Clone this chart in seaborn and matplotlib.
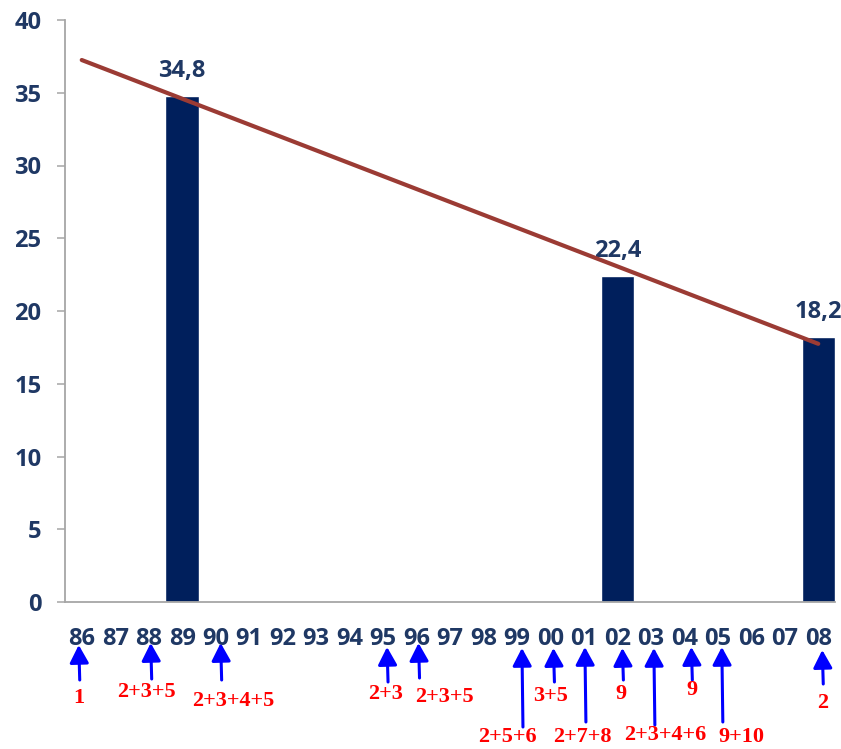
import numpy as np
import pandas as pd
import matplotlib
matplotlib.use("Agg")
import matplotlib.pyplot as plt
import matplotlib.transforms as mtransforms
import seaborn as sns

# ---------------- data ----------------
years = ["86", "87", "88", "89", "90", "91", "92", "93", "94", "95", "96", "97",
         "98", "99", "00", "01", "02", "03", "04", "05", "06", "07", "08"]
bar_years = ["89", "02", "08"]
bar_values = [34.8, 22.4, 18.2]
bar_labels = ["34,8", "22,4", "18,2"]
yticks = [0, 5, 10, 15, 20, 25, 30, 35, 40]

note_years = ["86", "88", "90", "95", "96", "99", "00", "01", "02", "03", "04", "05", "08"]
note_labels = ["1", "2+3+5", "2+3+4+5", "2+3", "2+3+5", "2+5+6", "3+5", "2+7+8",
               "9", "2+3+4+6", "9", "9+10", "2"]

# layout of the annotation arrows (pixels): tip dx, tip drop, tail drop, text dx, text drop
note_tip_dx = [-3, 2, 5, 4, 2, 5, 3, 1, 5, 3, 7, 4, 4]
note_tip_drop = [43, 41, 41, 45, 41, 46, 46, 45, 46, 46, 45, 45, 48]
note_tail_drop = [78, 77, 78, 80, 76, 125, 80, 120, 78, 123, 78, 120, 82]
note_text_dx = [-3, -2, 18, 3, 28, -10, 0, -2, 4, 14, 8, 24, 4]
note_text_drop = [96, 90, 99, 92, 95, 135, 94, 135, 92, 133, 88, 135, 101]

# ---------------- style ----------------
NAVY = "#1F3864"
BAR = "#001F5C"
TREND = "#9B3B34"
GRAY = "#A6A6A6"

sns.set_theme(style="white")
plt.rcParams["font.family"] = ["Open Sans", "DejaVu Sans"]

W, H = 841, 749
fig = plt.figure(figsize=(W / 100, H / 100), dpi=100)
ax_left, ax_right, ax_top, ax_bottom = 65, 835, 20, 602
ax = fig.add_axes([ax_left / W, (H - ax_bottom) / H,
                   (ax_right - ax_left) / W, (ax_bottom - ax_top) / H])

df = pd.DataFrame({"year": pd.Categorical(bar_years, categories=years, ordered=True),
                   "value": bar_values})
sns.barplot(data=df, x="year", y="value", order=years, color=BAR,
            saturation=1, width=1.0, ax=ax, zorder=2)

# linear trend across the categories
xpos = np.array([years.index(y) for y in bar_years], dtype=float)
slope, intercept = np.polyfit(xpos, bar_values, 1)
xs = np.array([0, len(years) - 1], dtype=float)
sns.lineplot(x=xs, y=slope * xs + intercept, color=TREND, lw=3.0, ax=ax,
             zorder=4, solid_capstyle="round")

# value labels
for xi, v, lab in zip(xpos, bar_values, bar_labels):
    ax.annotate(lab, xy=(xi, v), xytext=(0, 19), textcoords="offset pixels",
                ha="center", va="baseline", fontsize=17, fontweight="bold",
                color=NAVY, zorder=3)

ax.set_xlim(-0.5, len(years) - 0.5)
ax.set_ylim(0, 40)
ax.set_yticks(yticks)
ax.set_yticklabels([str(t) for t in yticks])
ax.set_xlabel("")
ax.set_ylabel("")

for s in ["top", "right"]:
    ax.spines[s].set_visible(False)
for s in ["left", "bottom"]:
    ax.spines[s].set_color(GRAY)
    ax.spines[s].set_linewidth(1.3)

ax.tick_params(axis="y", left=True, length=6, width=1.1, color=GRAY, pad=11,
               labelsize=17, labelcolor=NAVY)
ax.tick_params(axis="x", bottom=False, length=0, pad=18, labelsize=17,
               labelcolor=NAVY)
for lab in ax.get_xticklabels() + ax.get_yticklabels():
    lab.set_fontweight("bold")

# red notes with blue arrows under the year labels
base = ax.get_xaxis_transform()
for yr, lab, tdx, tdrop, tldrop, xdx, xdrop in zip(
        note_years, note_labels, note_tip_dx, note_tip_drop, note_tail_drop,
        note_text_dx, note_text_drop):
    i = years.index(yr)
    tip_tr = mtransforms.offset_copy(base, fig=fig, x=tdx, y=-tdrop, units="dots")
    tail_tr = mtransforms.offset_copy(base, fig=fig, x=tdx + 1, y=-tldrop, units="dots")
    tip_disp = tip_tr.transform((i, 0))
    tail_disp = tail_tr.transform((i, 0))
    ax.annotate("", xy=tip_disp, xycoords="figure pixels",
                xytext=tail_disp, textcoords="figure pixels",
                arrowprops=dict(arrowstyle="-|>,head_length=0.6,head_width=0.32",
                                mutation_scale=18, color="#0000FF", lw=2.2,
                                shrinkA=0, shrinkB=0),
                annotation_clip=False)
    txt_tr = mtransforms.offset_copy(base, fig=fig, x=xdx, y=-xdrop, units="dots")
    ax.text(i, 0, lab, transform=txt_tr, ha="center", va="center",
            fontsize=16, fontweight="bold", color="#FF0000",
            family=["Liberation Serif", "DejaVu Serif"], clip_on=False)

fig.savefig("out.png", dpi=100)
